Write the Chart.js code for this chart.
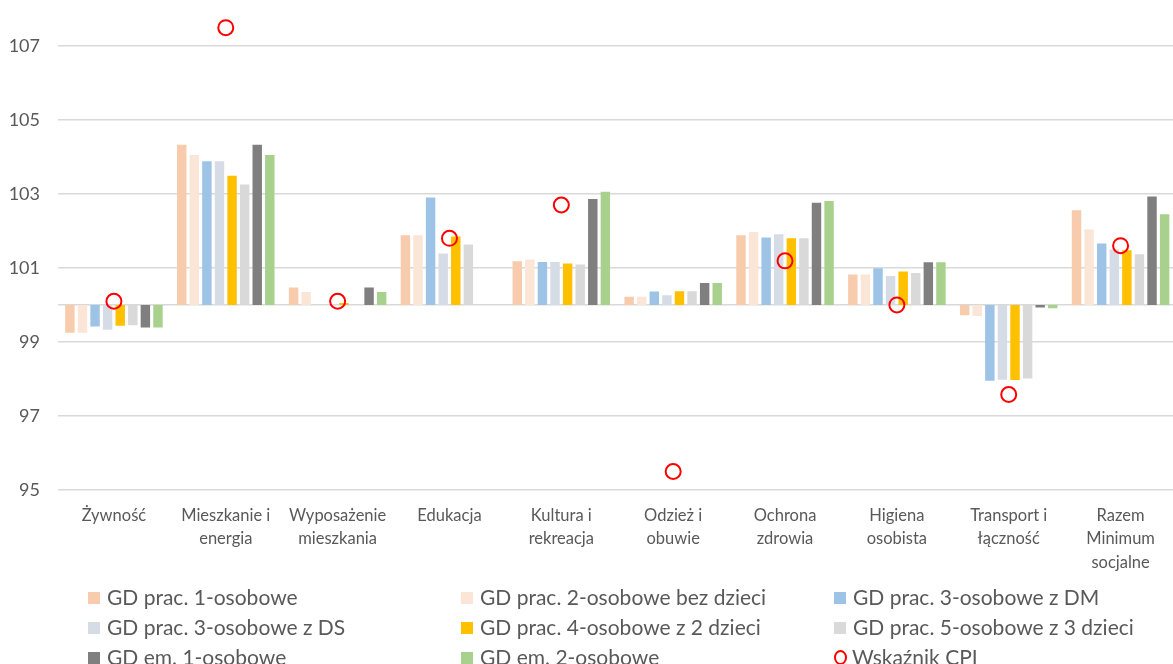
<!DOCTYPE html>
<html>
<head>
<meta charset="utf-8">
<script src="https://cdn.jsdelivr.net/npm/chart.js@4.4.1/dist/chart.umd.min.js"></script>
<style>
  html, body { margin: 0; padding: 0; background: #fff; overflow: hidden; width: 1173px; height: 664px; }
  #wrap { position: absolute; left: 0; top: -20px; width: 1186px; height: 684px; }
  #legend { position: absolute; left: 0; top: 0; width: 1173px; height: 664px; pointer-events: none;
            font-family: Lato, "Liberation Sans", sans-serif; font-size: 21px; color: #595959; }
  .li { position: absolute; white-space: nowrap; line-height: 24px; height: 24px; }
  .sw { display: inline-block; width: 12px; height: 12px; vertical-align: middle; margin-right: 7px; position: relative; top: -2px; }
  .circ { display: inline-block; border: 2px solid #FF0000; border-radius: 50%; vertical-align: middle; margin-right: 5px; position: relative; top: -2px; box-sizing: border-box; width: 13px; height: 15px; }
</style>
</head>
<body>
<div id="wrap"><canvas id="c"></canvas></div>
<div id="legend"></div>
<script>
const categories = [
  ["Żywność"],
  ["Mieszkanie i", "energia"],
  ["Wyposażenie", "mieszkania"],
  ["Edukacja"],
  ["Kultura i", "rekreacja"],
  ["Odzież i", "obuwie"],
  ["Ochrona", "zdrowia"],
  ["Higiena", "osobista"],
  ["Transport i", "łączność"],
  ["Razem", "Minimum", "socjalne"]
];

const seriesNames = [
  "GD prac. 1-osobowe",
  "GD prac. 2-osobowe bez dzieci",
  "GD prac. 3-osobowe z DM",
  "GD prac. 3-osobowe z DS",
  "GD prac. 4-osobowe z 2 dzieci",
  "GD prac. 5-osobowe z 3 dzieci",
  "GD em. 1-osobowe",
  "GD em. 2-osobowe"
];
const cpiName = "Wskaźnik CPI";

const gdPrac1   = [99.25, 104.33, 100.47, 101.88, 101.18, 100.22, 101.88, 100.82, 99.72, 102.56];
const gdPrac2   = [99.25, 104.05, 100.35, 101.88, 101.23, 100.22, 101.97, 100.82, 99.70, 102.04];
const gdPrac3DM = [99.42, 103.88, 100.00, 102.90, 101.16, 100.36, 101.82, 100.99, 97.95, 101.66];
const gdPrac3DS = [99.33, 103.88, 100.00, 101.39, 101.16, 100.26, 101.91, 100.78, 97.98, 101.50];
const gdPrac4   = [99.44, 103.49, 100.05, 101.85, 101.12, 100.37, 101.80, 100.90, 97.97, 101.48];
const gdPrac5   = [99.45, 103.25, 100.00, 101.63, 101.09, 100.37, 101.80, 100.86, 98.01, 101.37];
const gdEm1     = [99.39, 104.33, 100.47, 100.00, 102.86, 100.59, 102.76, 101.15, 99.93, 102.93];
const gdEm2     = [99.39, 104.05, 100.35, 100.00, 103.06, 100.59, 102.81, 101.15, 99.91, 102.45];
const cpi       = [100.10, 107.49, 100.10, 101.80, 102.70, 95.50, 101.19, 100.00, 97.58, 101.60];

const baseValue = 100;
const yTicks = [95, 97, 99, 100, 101, 103, 105, 107];

const seriesValues = [gdPrac1, gdPrac2, gdPrac3DM, gdPrac3DS, gdPrac4, gdPrac5, gdEm1, gdEm2];
const seriesColors = ["#F8CBAD", "#FBE5D6", "#9DC3E6", "#D6DCE5", "#FFC000", "#D9D9D9", "#7F7F7F", "#A9D18E"];

const datasets = seriesValues.map((vals, i) => ({
  type: 'bar',
  label: seriesNames[i],
  data: vals.map(v => [baseValue, v]),
  backgroundColor: seriesColors[i],
  borderWidth: 0,
  categoryPercentage: 0.9,
  barPercentage: 0.75,
  order: 1
}));
datasets.push({
  type: 'line',
  label: cpiName,
  data: cpi,
  showLine: false,
  pointStyle: 'circle',
  pointRadius: 7.5,
  pointBorderWidth: 2,
  pointBorderColor: '#FF0000',
  pointBackgroundColor: 'rgba(0,0,0,0)',
  order: 0
});

const font = "Lato, 'Liberation Sans', sans-serif";

new Chart(document.getElementById('c'), {
  data: { labels: categories, datasets },
  options: {
    responsive: true,
    maintainAspectRatio: false,
    animation: false,
    layout: { padding: { top: 7, left: 0, right: 0, bottom: 0 } },
    plugins: { legend: { display: false }, tooltip: { enabled: false } },
    scales: {
      x: {
        grid: { display: false },
        border: { display: false },
        ticks: {
          color: '#595959',
          font: { family: font, size: 16.5, lineHeight: 1.42 },
          maxRotation: 0, minRotation: 0, autoSkip: false, padding: 6
        },
        afterFit: s => { s.height = 174; }
      },
      y: {
        min: 95, max: 108,
        afterBuildTicks: s => { s.ticks = yTicks.map(v => ({ value: v })); },
        grid: { color: '#D9D9D9', lineWidth: 1.5, drawTicks: false },
        border: { display: false },
        ticks: {
          color: '#595959',
          font: { family: font, size: 18 },
          padding: 18,
          callback: v => (v === baseValue ? '' : v)
        },
        afterFit: s => { s.width = 58; }
      }
    }
  }
});

// HTML legend built from the series names/colours
const legendEl = document.getElementById('legend');
const colX = [88, 461, 834];
const rowY = [585, 615, 645];
const items = seriesNames.map((n, i) => ({ name: n, color: seriesColors[i] }));
items.push({ name: cpiName, cpi: true });
items.forEach((it, i) => {
  const d = document.createElement('div');
  d.className = 'li';
  d.style.left = colX[i % 3] + 'px';
  d.style.top = rowY[Math.floor(i / 3)] + 'px';
  const m = document.createElement('span');
  if (it.cpi) { m.className = 'circ'; }
  else { m.className = 'sw'; m.style.background = it.color; }
  d.appendChild(m);
  d.appendChild(document.createTextNode(it.name));
  legendEl.appendChild(d);
});
</script>
</body>
</html>
